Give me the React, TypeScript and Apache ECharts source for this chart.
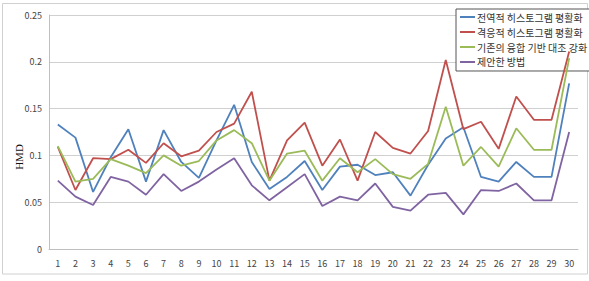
import React, { useEffect, useRef } from "react";
import * as echarts from "echarts";

const categories = Array.from({ length: 30 }, (_, i) => String(i + 1));
const seriesNames = [
  "전역적 히스토그램 평활화",
  "격응적 히스토그램 평활화",
  "기존의 융합 기반 대조 강화",
  "제안한 방법",
];
const globalHE = [
  0.133, 0.119, 0.061, 0.098, 0.128, 0.072, 0.127, 0.093, 0.076, 0.116,
  0.154, 0.093, 0.064, 0.077, 0.094, 0.063, 0.088, 0.09, 0.079, 0.082,
  0.057, 0.09, 0.118, 0.13, 0.077, 0.072, 0.093, 0.077, 0.077, 0.177,
];
const adaptiveHE = [
  0.109, 0.063, 0.097, 0.096, 0.106, 0.092, 0.113, 0.099, 0.105, 0.125,
  0.134, 0.168, 0.073, 0.116, 0.135, 0.089, 0.117, 0.073, 0.125, 0.108,
  0.102, 0.126, 0.202, 0.128, 0.136, 0.107, 0.163, 0.138, 0.138, 0.211,
];
const fusionCE = [
  0.11, 0.072, 0.075, 0.096, 0.089, 0.081, 0.1, 0.089, 0.094, 0.116,
  0.127, 0.113, 0.073, 0.102, 0.105, 0.073, 0.097, 0.082, 0.096, 0.08,
  0.075, 0.091, 0.152, 0.089, 0.109, 0.088, 0.129, 0.106, 0.106, 0.204,
];
const proposed = [
  0.073, 0.056, 0.047, 0.077, 0.072, 0.058, 0.08, 0.062, 0.072, 0.085,
  0.097, 0.068, 0.052, 0.066, 0.08, 0.046, 0.056, 0.052, 0.07, 0.045,
  0.041, 0.058, 0.06, 0.037, 0.063, 0.062, 0.07, 0.052, 0.052, 0.125,
];
const colors = ["#4F81BD", "#C0504D", "#9BBB59", "#8064A2"];
const yTicks = [0, 0.05, 0.1, 0.15, 0.2, 0.25];

export default function App() {
  const ref = useRef<HTMLDivElement>(null);
  useEffect(() => {
    if (!ref.current) return;
    const chart = echarts.init(ref.current, null, { renderer: "svg" });
    const data = [globalHE, adaptiveHE, fusionCE, proposed];
    chart.setOption({
      animation: false,
      backgroundColor: "#fff",
      grid: { left: 49, top: 15, right: 11, bottom: 32, containLabel: false },
      legend: {
        orient: "vertical",
        left: 456,
        top: 9,
        z: 1,
        padding: [3, 4, 4, 4],
        itemGap: 5,
        itemWidth: 15,
        itemHeight: 2,
        icon: "rect",
        backgroundColor: "#fff",
        borderColor: "#555",
        borderWidth: 1,
        borderRadius: 0,
        textStyle: {
          fontSize: 10,
          color: "#333",
          fontFamily: "Noto Sans CJK KR",
          padding: [0, 0, 0, -3],
        },
        data: seriesNames,
      },
      xAxis: {
        type: "category",
        data: categories,
        boundaryGap: true,
        axisLine: { lineStyle: { color: "#bfbfbf", width: 1 } },
        axisTick: { show: false },
        axisLabel: {
          fontSize: 9,
          color: "#444",
          margin: 10,
          interval: 0,
          fontFamily: "Noto Sans CJK KR",
        },
      },
      yAxis: {
        type: "value",
        min: 0,
        max: 0.25,
        interval: 0.05,
        axisLine: { show: true, lineStyle: { color: "#bfbfbf", width: 1 } },
        axisTick: { show: false },
        splitLine: { lineStyle: { color: "#d0d0d0", width: 1 } },
        axisLabel: {
          fontSize: 9,
          color: "#444",
          margin: 7,
          fontFamily: "Noto Sans CJK KR",
          formatter: (v: number) => {
            const t = yTicks.find((x) => Math.abs(x - v) < 1e-9);
            return t === undefined ? String(v) : String(+t.toFixed(2));
          },
        },
      },
      graphic: [
        {
          type: "rect",
          shape: { x: 2.5, y: 3.5, width: 585, height: 270.5 },
          style: { fill: "none", stroke: "#d0d0d0", lineWidth: 1 },
          silent: true,
          z: -10,
        },
        {
          type: "text",
          x: 19,
          y: 157,
          rotation: Math.PI / 2,
          style: {
            text: "HMD",
            fontFamily: "Liberation Serif",
            fontSize: 11,
            fill: "#111",
            align: "center",
            verticalAlign: "middle",
          },
        },
      ],
      series: seriesNames.map((name, i) => ({
        name,
        type: "line",
        data: data[i],
        symbol: "none",
        showSymbol: false,
        lineStyle: { color: colors[i], width: 1.8 },
        itemStyle: { color: colors[i] },
        z: 5 + i,
      })),
    });
    return () => chart.dispose();
  }, []);
  return <div ref={ref} style={{ width: 589, height: 281, position: "absolute", left: 0, top: 0 }} />;
}
